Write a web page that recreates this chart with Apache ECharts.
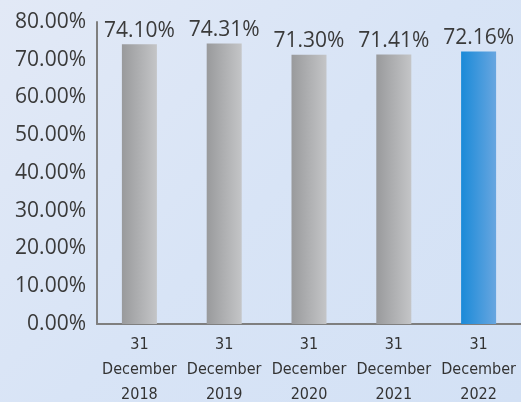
<!DOCTYPE html>
<html><head><meta charset="utf-8">
<script src="https://cdn.jsdelivr.net/npm/echarts@6/dist/echarts.min.js"></script>
<style>html,body{margin:0;padding:0;}#c{width:521px;height:402px;background:linear-gradient(135deg,#e2e9f6 0%,#d8e4f6 50%,#d3e1f5 100%);}</style>
</head><body><div id="c"></div>
<script>
const categories = ['31\nDecember\n2018','31\nDecember\n2019','31\nDecember\n2020','31\nDecember\n2021','31\nDecember\n2022'];
const values = [74.10, 74.31, 71.30, 71.41, 72.16];
const yTicks = [0,10,20,30,40,50,60,70,80];
const gray = new echarts.graphic.LinearGradient(0,0,1,0,[{offset:0,color:'#999a9c'},{offset:1,color:'#c4c5c7'}]);
const blue = new echarts.graphic.LinearGradient(0,0,1,0,[{offset:0,color:'#1a8ad8'},{offset:1,color:'#68a6e0'}]);
const chart = echarts.init(document.getElementById('c'));
chart.setOption({
  animation:false,
  grid:{left:97,right:0,top:22,bottom:78,containLabel:false,outerBoundsMode:'none'},
  xAxis:{type:'category',data:categories,
    axisLine:{lineStyle:{color:'#7f7f7f',width:2}},axisTick:{show:false},
    axisLabel:{interval:0,color:'#333',fontSize:16,fontFamily:'DejaVu Sans Condensed',lineHeight:25,margin:8}},
  yAxis:{type:'value',min:0,max:80,interval:10,
    axisLine:{show:true,lineStyle:{color:'#7f7f7f',width:2}},axisTick:{show:false},splitLine:{show:false},
    axisLabel:{color:'#3a3a3a',fontSize:21,fontFamily:'Open Sans',margin:11,padding:[3,0,0,0],formatter:v=>v.toFixed(2)+'%'}},
  series:[{type:'bar',barWidth:35,
    data:values.map((v,i)=>({value:v,itemStyle:{color:i===4?blue:gray}})),
    label:{show:true,position:'top',distance:3,color:'#3a3a3a',fontSize:21,fontFamily:'Open Sans',formatter:p=>p.value.toFixed(2)+'%'}}]
});
</script></body></html>
